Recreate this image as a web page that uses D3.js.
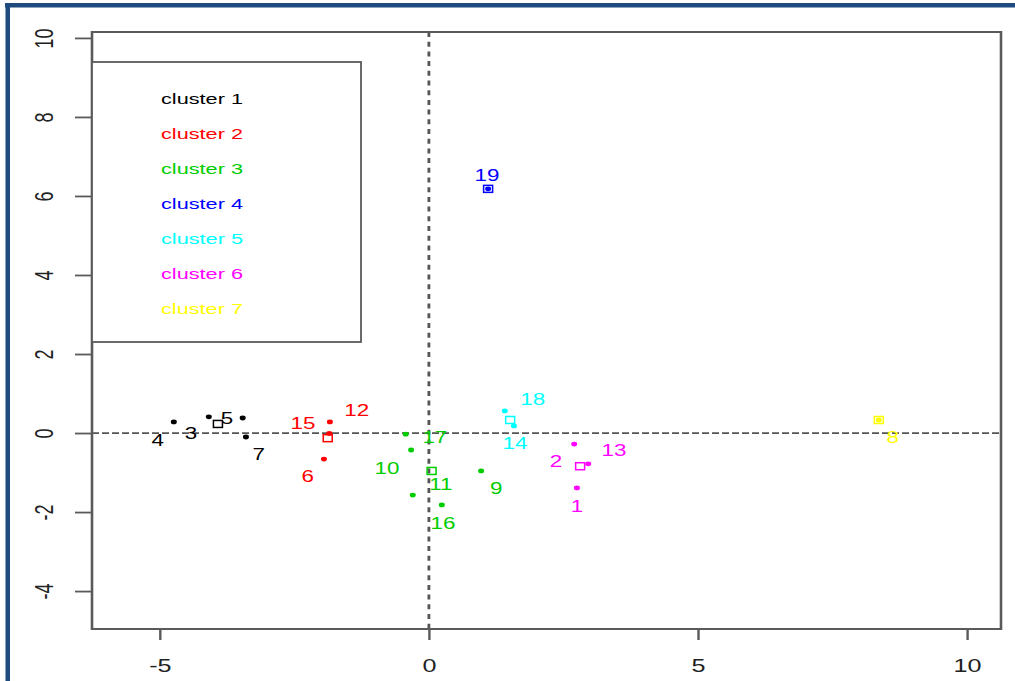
<!DOCTYPE html>
<html>
<head>
<meta charset="utf-8">
<script src="https://cdn.jsdelivr.net/npm/d3@7"></script>
<style>
  html, body { margin: 0; padding: 0; background: #fff; }
  svg { display: block; font-family: "Liberation Sans", Arial, sans-serif; }
</style>
</head>
<body>
<svg id="chart" width="1015" height="681"></svg>
<script>
// Observations: id, first two component scores, cluster membership
const pointIds  = [1, 2, 3, 4, 5, 6, 7, 8, 9, 10, 11, 12, 13, 14, 15, 16, 17, 18, 19];
const pointX    = [2.75, 2.70, -4.09, -4.74, -3.46, -1.95, -3.40, 8.36, 0.97, -0.33, -0.30, -1.84, 2.96, 1.58, -1.85, 0.24, -0.43, 1.41, 1.10];
const pointY    = [-1.39, -0.28, 0.41, 0.28, 0.38, -0.66, -0.10, 0.33, -0.96, -0.43, -1.57, 0.28, -0.78, 0.18, -0.01, -1.82, -0.03, 0.56, 6.18];
const pointClus = [6, 6, 1, 1, 1, 2, 1, 7, 3, 3, 3, 2, 6, 5, 2, 3, 3, 5, 4];
// Where each observation's number is written
const labelX    = [2.75, 2.36, -4.42, -5.04, -3.75, -2.25, -3.16, 8.62, 1.25, -0.78, 0.22, -1.34, 3.44, 1.60, -2.34, 0.26, 0.11, 1.93, 1.08];
const labelY    = [-1.85, -0.73, 0.00, -0.18, 0.38, -1.09, -0.53, -0.10, -1.39, -0.89, -1.29, 0.58, -0.43, -0.25, 0.25, -2.28, -0.10, 0.84, 6.53];

// Cluster centres
const clusterNames = ["cluster 1", "cluster 2", "cluster 3", "cluster 4", "cluster 5", "cluster 6", "cluster 7"];
const centerX = [-3.92, -1.88, 0.05, 1.10, 1.51, 2.81, 8.36];
const centerY = [0.23, -0.13, -0.96, 6.18, 0.33, -0.84, 0.33];
const clusterColors = ["#000000", "#FF0000", "#00CD00", "#0000FF", "#00FFFF", "#FF00FF", "#FFFF00"];

// Axes
const xTicks = [-5, 0, 5, 10];
const yTicks = [-4, -2, 0, 2, 4, 6, 8, 10];
const xLimits = [-6.26, 10.63];
const yLimits = [-4.96, 10.15];

const svg = d3.select("#chart");
const plot = { left: 92, right: 1001, top: 32, bottom: 629 };
const SX = 1.4;           // horizontal text stretch
const axisGrey = "#5a5a5a";
const textDark = "#222";

const x = d3.scaleLinear().domain(xLimits).range([plot.left, plot.right]);
const y = d3.scaleLinear().domain(yLimits).range([plot.bottom, plot.top]);

// Page frame
svg.append("rect").attr("x", 0).attr("y", 0).attr("width", 1015).attr("height", 681).attr("fill", "#fff");
svg.append("rect").attr("x", 5).attr("y", 3).attr("width", 1010).attr("height", 4.5).attr("fill", "#1f4a7e");
svg.append("rect").attr("x", 5.5).attr("y", 3).attr("width", 4.5).attr("height", 678).attr("fill", "#1f4a7e");

// Reference lines through the origin
svg.append("line")
  .attr("x1", plot.left).attr("x2", plot.right)
  .attr("y1", y(0)).attr("y2", y(0))
  .attr("stroke", "#555").attr("stroke-width", 1.8)
  .attr("stroke-dasharray", "7,3");
svg.append("line")
  .attr("x1", x(0)).attr("x2", x(0))
  .attr("y1", plot.top).attr("y2", plot.bottom)
  .attr("stroke", "#555").attr("stroke-width", 2.8)
  .attr("stroke-dasharray", "5,4.7");

// Bottom axis
const gx = svg.append("g")
  .attr("transform", `translate(0,${plot.bottom})`)
  .call(d3.axisBottom(x).tickValues(xTicks).tickSize(11).tickSizeOuter(0).tickFormat(d => String(d)));
gx.select(".domain").remove();
gx.selectAll(".tick line").attr("stroke", axisGrey).attr("stroke-width", 2.4);
gx.selectAll(".tick text")
  .attr("y", 0).attr("dy", null)
  .attr("transform", `translate(0,43) scale(${SX},1)`)
  .attr("text-anchor", "middle")
  .attr("fill", textDark)
  .style("font-size", "18px")
  .style("font-family", "'Liberation Sans', Arial, sans-serif");

// Left axis
const gy = svg.append("g")
  .attr("transform", `translate(${plot.left},0)`)
  .call(d3.axisLeft(y).tickValues(yTicks).tickSize(17).tickSizeOuter(0).tickFormat(d => String(d)));
gy.select(".domain").remove();
gy.selectAll(".tick line").attr("stroke", axisGrey).attr("stroke-width", 1.8);
gy.selectAll(".tick text")
  .attr("x", 0).attr("dy", null)
  .attr("transform", `translate(-39,0) scale(${SX},1) rotate(-90)`)
  .attr("text-anchor", "middle")
  .attr("fill", textDark)
  .style("font-size", "18px")
  .style("font-family", "'Liberation Sans', Arial, sans-serif");

// Plot box
const box = svg.append("g").attr("stroke", axisGrey).attr("fill", "none");
box.append("line").attr("x1", plot.left).attr("x2", plot.right).attr("y1", plot.top).attr("y2", plot.top).attr("stroke-width", 1.8);
box.append("line").attr("x1", plot.left).attr("x2", plot.right).attr("y1", plot.bottom).attr("y2", plot.bottom).attr("stroke-width", 1.8);
box.append("line").attr("x1", plot.left).attr("x2", plot.left).attr("y1", plot.top - 0.9).attr("y2", plot.bottom + 0.9).attr("stroke-width", 2.6);
box.append("line").attr("x1", plot.right).attr("x2", plot.right).attr("y1", plot.top - 0.9).attr("y2", plot.bottom + 0.9).attr("stroke-width", 2.6);

// Legend
const legend = { left: 92, right: 361, top: 62, bottom: 342, textX: 161, firstRow: 99, rowGap: 34.9 };
svg.append("rect")
  .attr("x", legend.left).attr("y", legend.top)
  .attr("width", legend.right - legend.left).attr("height", legend.bottom - legend.top)
  .attr("fill", "#fff").attr("stroke", axisGrey).attr("stroke-width", 1.8);
svg.append("g").selectAll("text")
  .data(clusterNames)
  .join("text")
  .attr("transform", (d, i) => `translate(${legend.textX},${legend.firstRow + i * legend.rowGap}) scale(${SX},1)`)
  .attr("dy", "0.35em")
  .attr("fill", (d, i) => clusterColors[i])
  .style("font-size", "15.5px")
  .text(d => d);

// Observations
const points = pointIds.map((id, i) => ({
  id, x: pointX[i], y: pointY[i], c: pointClus[i], lx: labelX[i], ly: labelY[i]
}));

svg.append("g").selectAll("ellipse")
  .data(points)
  .join("ellipse")
  .attr("cx", d => x(d.x)).attr("cy", d => y(d.y))
  .attr("rx", 3).attr("ry", 2.4)
  .attr("fill", d => clusterColors[d.c - 1]);

// Cluster centres as open squares
const centers = centerX.map((cx, i) => ({ x: cx, y: centerY[i], c: i + 1 }));
svg.append("g").selectAll("rect")
  .data(centers)
  .join("rect")
  .attr("x", d => x(d.x) - 4.5).attr("y", d => y(d.y) - 3.5)
  .attr("width", 9).attr("height", 7)
  .attr("fill", "none")
  .attr("stroke", d => clusterColors[d.c - 1])
  .attr("stroke-width", 1.5);

// Observation numbers
svg.append("g").selectAll("text")
  .data(points)
  .join("text")
  .attr("transform", d => `translate(${x(d.lx)},${y(d.ly)}) scale(${SX},1)`)
  .attr("text-anchor", "middle")
  .attr("dy", "0.35em")
  .attr("fill", d => clusterColors[d.c - 1])
  .style("font-size", "16px")
  .text(d => d.id);
</script>
</body>
</html>
